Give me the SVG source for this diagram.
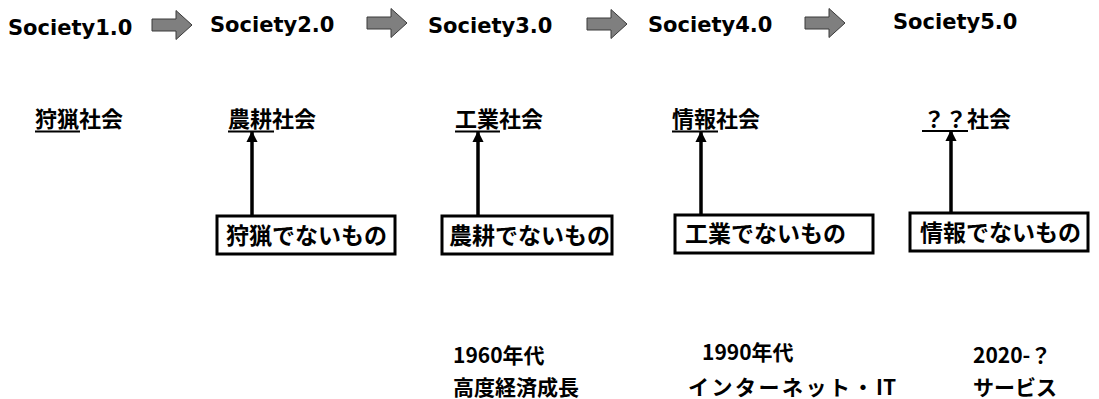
<svg xmlns="http://www.w3.org/2000/svg" width="1099" height="399" viewBox="0 0 1099 399">
<defs>
<style>
.soc{font-family:"DejaVu Sans","Verdana",sans-serif;font-weight:bold;font-size:21px;fill:#000}
.jp{font-family:"Noto Sans CJK JP",sans-serif;font-weight:bold;font-size:22px;fill:#000}
.era{font-family:"Noto Sans CJK JP",sans-serif;font-weight:bold;font-size:21px;fill:#000}
.bx{font-family:"Noto Sans CJK JP",sans-serif;font-weight:bold;font-size:23px;fill:#000}
.box{fill:#fff;stroke:#000;stroke-width:3}
.ul{stroke:#000;stroke-width:2}
.conn{stroke:#000;stroke-width:3.5;fill:none;marker-end:url(#ah)}
.blk{fill:#7f7f7f;stroke:#3a3a3a;stroke-width:1}
</style>
<marker id="ah" viewBox="0 0 10 10" refX="9" refY="5" markerWidth="3.2" markerHeight="3.2" orient="auto" markerUnits="strokeWidth">
<path d="M0,0 L10,5 L0,10 z" fill="#000"/>
</marker>
<path id="blkarrow" class="blk" d="M0,-6 L24,-6 L24,-14.5 L40,0 L24,14.5 L24,6 L0,6 z"/>
</defs>

<g id="society">
<text class="soc" x="8" y="35">Society1.0</text>
<text class="soc" x="210" y="32">Society2.0</text>
<text class="soc" x="428" y="33">Society3.0</text>
<text class="soc" x="648" y="32">Society4.0</text>
<text class="soc" x="893" y="29">Society5.0</text>
</g>

<g id="stage-arrows">
<use href="#blkarrow" x="152" y="25"/>
<use href="#blkarrow" x="367" y="23"/>
<use href="#blkarrow" x="587" y="24"/>
<use href="#blkarrow" x="805" y="23"/>
</g>

<g id="hunting">
<text class="jp" x="35" y="127">狩猟社会</text>
<line class="ul" x1="35" y1="131.5" x2="80" y2="131.5"/>
</g>
<g id="agri">
<text class="jp" x="228" y="127">農耕社会</text>
<line class="ul" x1="228" y1="131.5" x2="274" y2="131.5"/>
</g>
<g id="industry">
<text class="jp" x="455" y="127">工業社会</text>
<line class="ul" x1="455" y1="131.5" x2="500" y2="131.5"/>
</g>
<g id="info">
<text class="jp" x="672" y="127">情報社会</text>
<line class="ul" x1="672" y1="131.5" x2="718" y2="131.5"/>
</g>
<g id="future">
<text class="jp" x="923" y="127">？？社会</text>
<line class="ul" x1="922" y1="131" x2="968" y2="131"/>
</g>

<g id="box1">
<rect class="box" x="217" y="216" width="178" height="38"/>
<text class="bx" x="226" y="244">狩猟でないもの</text>
</g>
<g id="box2">
<rect class="box" x="442" y="216" width="170" height="38"/>
<text class="bx" x="449" y="244">農耕でないもの</text>
</g>
<g id="box3">
<rect class="box" x="675" y="215" width="198" height="38"/>
<text class="bx" x="685" y="242">工業でないもの</text>
</g>
<g id="box4">
<rect class="box" x="910" y="213" width="178" height="38"/>
<text class="bx" x="920" y="241">情報でないもの</text>
</g>

<g id="connectors">
<line class="conn" x1="252" y1="216" x2="252" y2="132"/>
<line class="conn" x1="478" y1="216" x2="478" y2="132"/>
<line class="conn" x1="701" y1="215" x2="701" y2="132"/>
<line class="conn" x1="951" y1="213" x2="951" y2="131"/>
</g>

<g id="era1960">
<text class="era" x="453" y="363">1960年代</text>
<text class="era" x="453" y="395">高度経済成長</text>
</g>
<g id="era1990">
<text class="era" x="702" y="360">1990年代</text>
<text class="era" x="688" y="395"><tspan letter-spacing="2.5">インターネット・</tspan><tspan>IT</tspan></text>
</g>
<g id="era2020">
<text class="era" x="973" y="363">2020-？</text>
<text class="era" x="973" y="395">サービス</text>
</g>
</svg>
